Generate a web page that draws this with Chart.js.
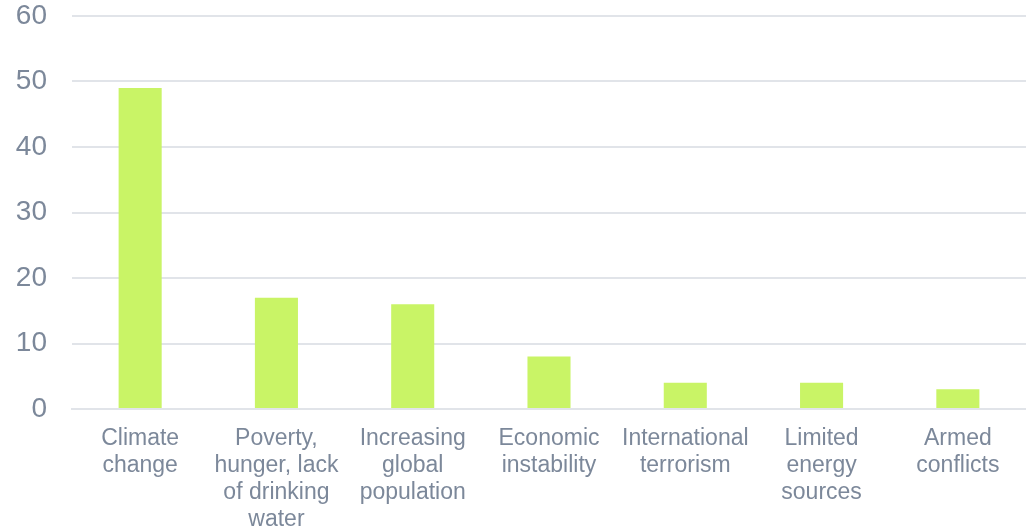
<!DOCTYPE html>
<html>
<head>
<meta charset="utf-8">
<script src="https://cdn.jsdelivr.net/npm/chart.js@4/dist/chart.umd.min.js"></script>
<style>
  html, body { margin: 0; padding: 0; background: #fff; }
  #wrap { width: 1026px; height: 531px; }
</style>
</head>
<body>
<div id="wrap"><canvas id="chart_canvas"></canvas></div>
<script>
"use strict";
const categories = [
  ["Climate", "change"],
  ["Poverty,", "hunger, lack", "of drinking", "water"],
  ["Increasing", "global", "population"],
  ["Economic", "instability"],
  ["International", "terrorism"],
  ["Limited", "energy", "sources"],
  ["Armed", "conflicts"]
];
const values = [49, 17, 16, 8, 4, 4, 3];
const y_ticks = [0, 10, 20, 30, 40, 50, 60];

const text_color = "#7c889a";
const grid_color = "#e1e4e9";
const bar_color = "#c9f466";

Chart.defaults.font.family = "'Liberation Sans', Arial, sans-serif";
Chart.defaults.color = text_color;

new Chart(document.getElementById("chart_canvas"), {
  type: "bar",
  data: {
    labels: categories,
    datasets: [
      {
        data: values,
        backgroundColor: bar_color,
        borderWidth: 0,
        categoryPercentage: 1,
        barPercentage: 0.316
      }
    ]
  },
  options: {
    responsive: true,
    maintainAspectRatio: false,
    animation: false,
    layout: {
      padding: { left: 16, right: 0, top: 0, bottom: 0 }
    },
    plugins: {
      legend: { display: false },
      tooltip: { enabled: false }
    },
    scales: {
      x: {
        grid: { display: false },
        border: { display: true, color: grid_color, width: 2 },
        afterFit: axis => {
          axis.paddingLeft = 0;
          axis.paddingRight = 0;
          axis.height = 122;
        },
        ticks: {
          maxRotation: 0,
          autoSkip: false,
          padding: 8,
          font: { size: 23, lineHeight: 1.17 },
          color: text_color
        }
      },
      y: {
        min: 0,
        max: 60,
        afterBuildTicks: axis => {
          axis.ticks = y_ticks.map(v => ({ value: v }));
        },
        afterFit: axis => {
          axis.paddingTop = 16;
          axis.paddingBottom = 0;
          axis.width = 56;
        },
        grid: { color: grid_color, lineWidth: 2, drawTicks: false },
        border: { display: false },
        ticks: {
          padding: 25,
          font: { size: 28 },
          color: text_color
        }
      }
    }
  }
});
</script>
</body>
</html>
